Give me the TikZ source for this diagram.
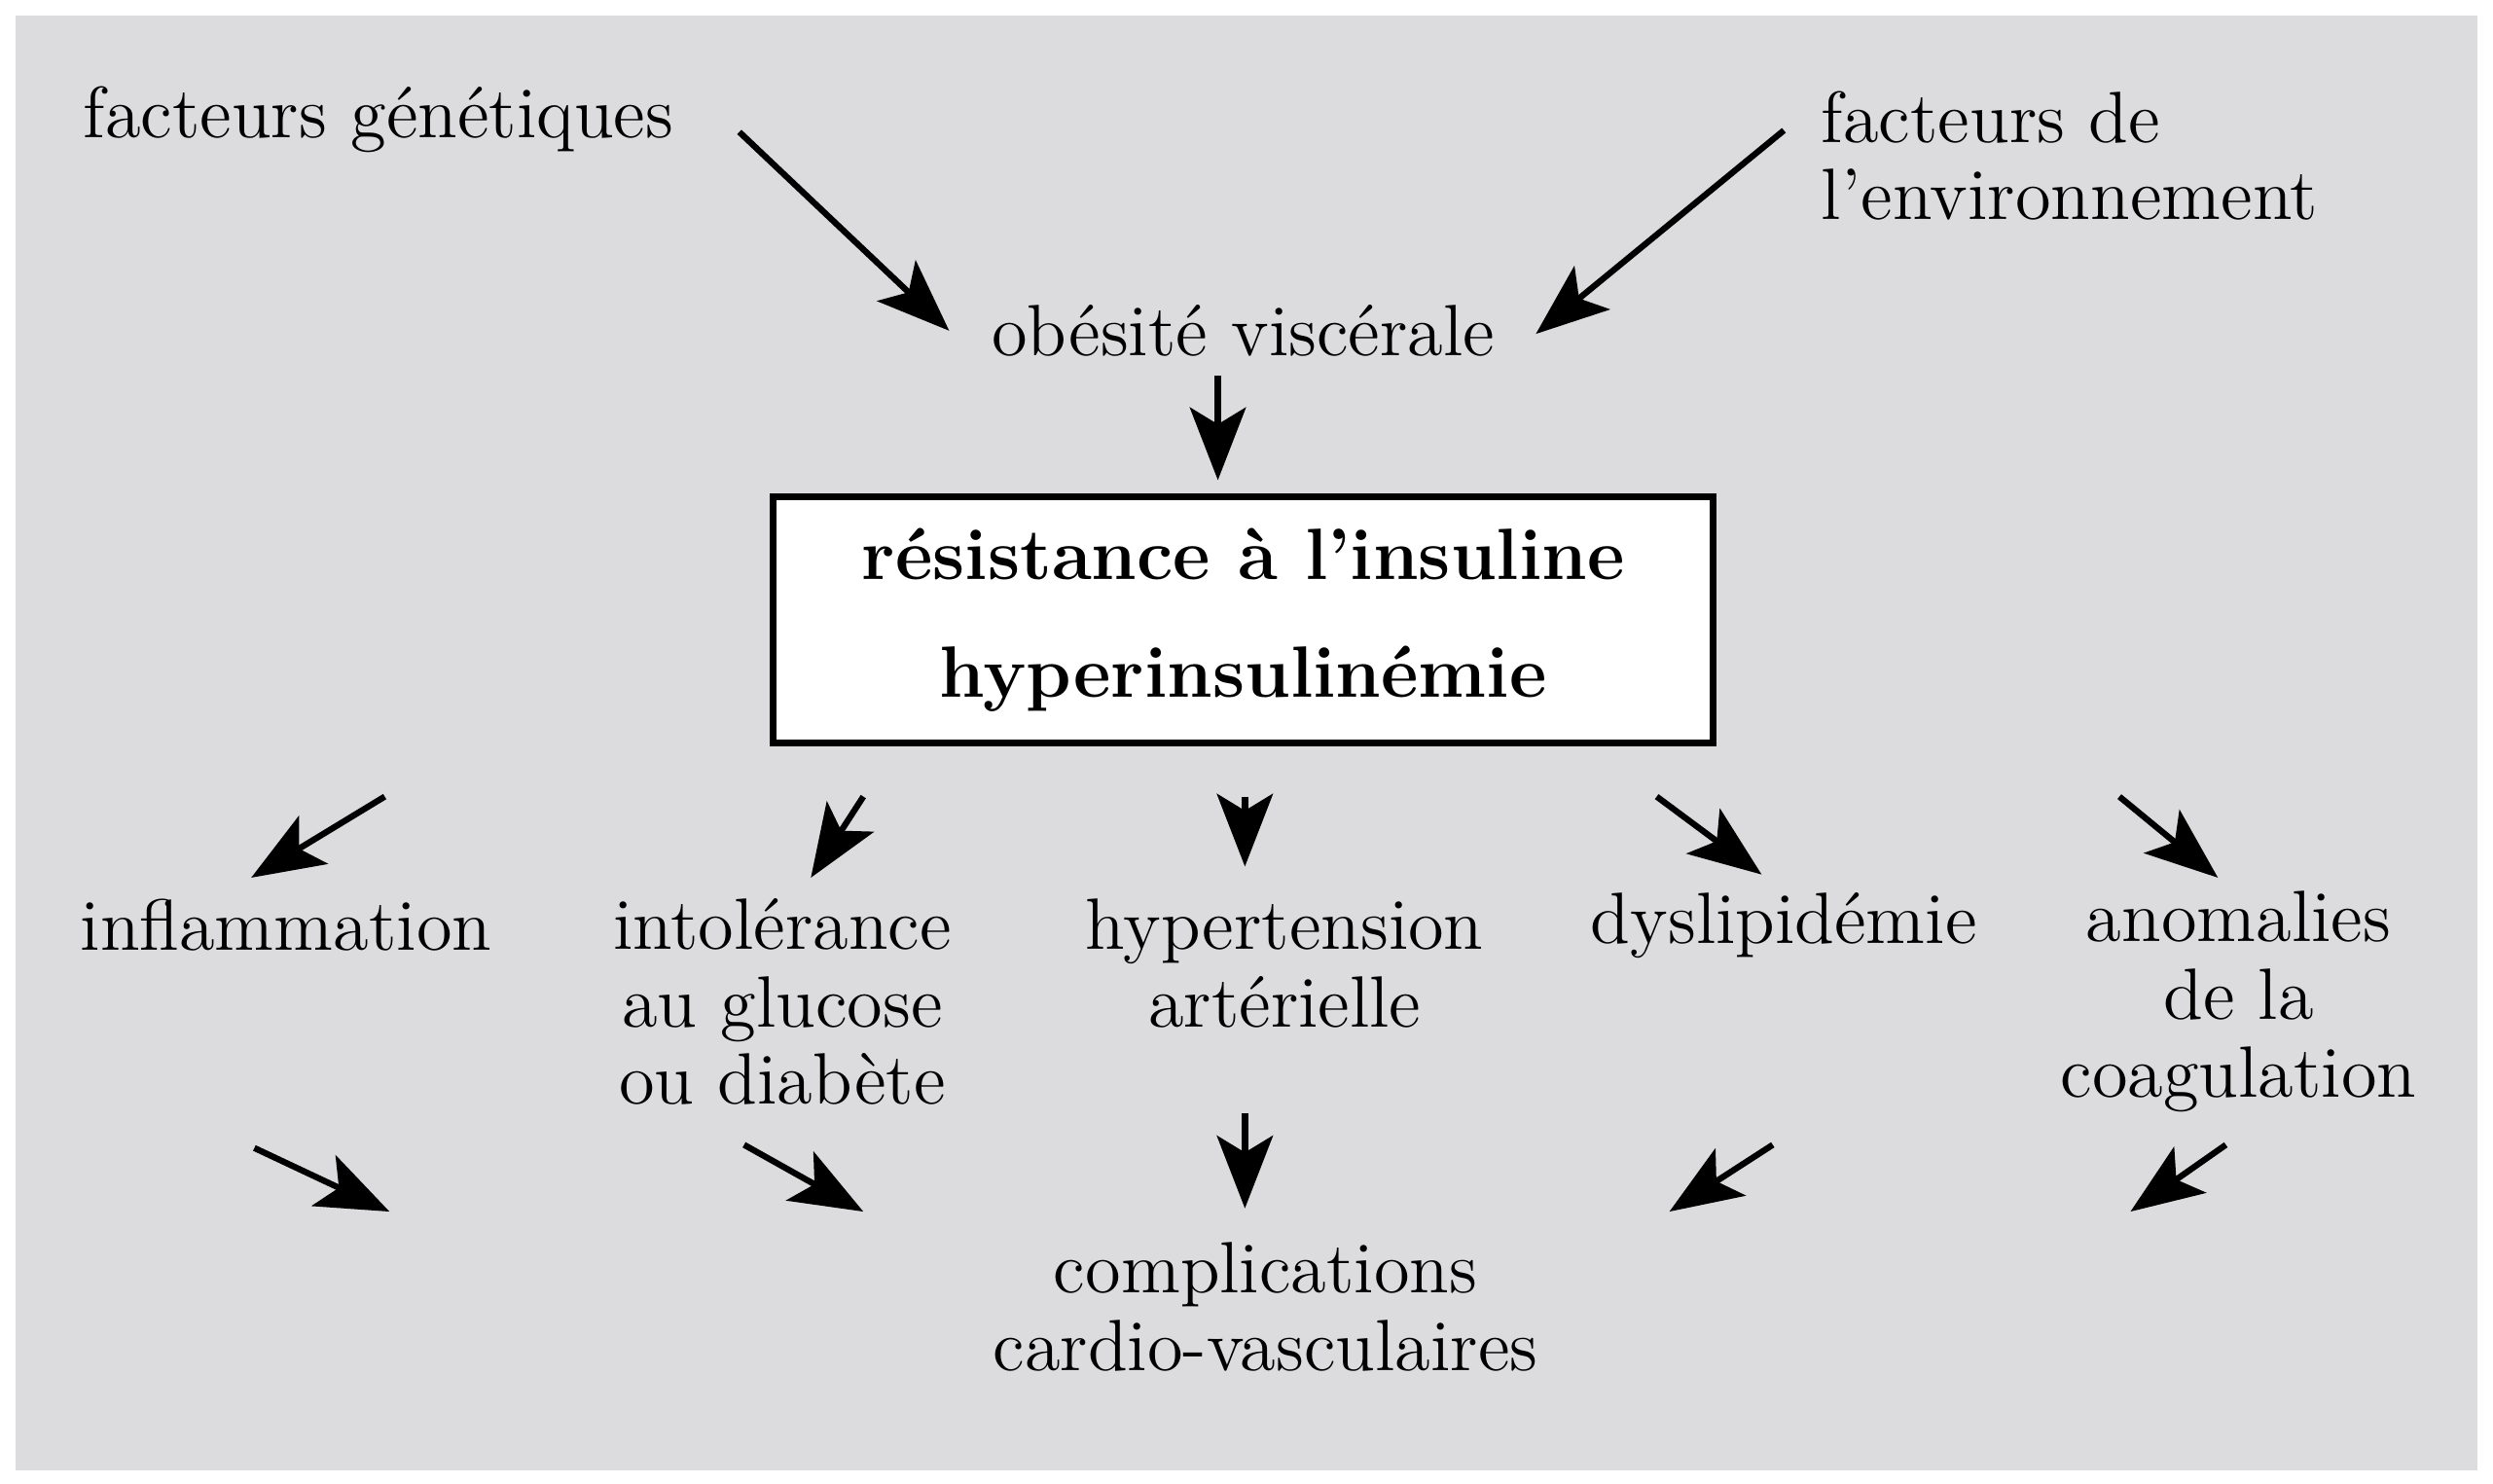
\documentclass[tikz,border=0pt]{standalone}
\usetikzlibrary{arrows.meta}
\definecolor{bg}{HTML}{DCDCDE}
\begin{document}
\begin{tikzpicture}[x=0.01cm,y=-0.01cm,
  txt/.style={font=\fontsize{13}{13.9}\selectfont, align=center, inner sep=0pt},
  arr/.style={line width=1.1pt,-{Stealth[length=13pt,width=10pt,inset=3pt]}}]
\useasboundingbox (0,0) rectangle (1568,933);
\fill[bg] (10,10) rectangle (1558,925);
\node[txt] (fg) at (238,75) {facteurs génétiques};
\node[txt,align=left,anchor=west] (fe) at (1145,98) {facteurs de\\l'environnement};
\node[txt] (ob) at (782,208) {obésité viscérale};
\node[draw,fill=white,line width=1.2pt,minimum width=591\pgflinewidth,inner sep=0pt,
  minimum width=5.91cm,minimum height=1.55cm,align=center,
  font=\fontsize{13}{21}\selectfont\bfseries] (box) at (782,390) {résistance à l'insuline\\hyperinsulinémie};
\node[txt] (infl) at (180,582) {inflammation};
\node[txt] (intol) at (492,630) {intolérance\\au glucose\\ou diabète};
\node[txt] (hyp) at (808,606) {hypertension\\artérielle};
\node[txt] (dys) at (1122,582) {dyslipidémie};
\node[txt] (ano) at (1408,630) {anomalies\\de la\\coagulation};
\node[txt] (comp) at (796,822) {complications\\cardio-vasculaires};
\foreach \n/\a/\b/\c/\d in {
 a1/465/83/597/208, a2/1122/82/966/210, a3/766/236/766/302,
 b1/242/501/158/552, b2/543/501/510/552, b3/783/501/783/545,
 b4/1042/501/1108/550, b5/1333/501/1395/552,
 c1/160/722/245/762, c2/468/720/543/762, c3/783/700/783/760,
 c4/1115/720/1050/762, c5/1400/720/1340/762}{
 \coordinate (\n s) at (\a,\b); \coordinate (\n e) at (\c,\d);
 \draw[arr] (\n s) -- (\n e);}
\end{tikzpicture}
\end{document}
